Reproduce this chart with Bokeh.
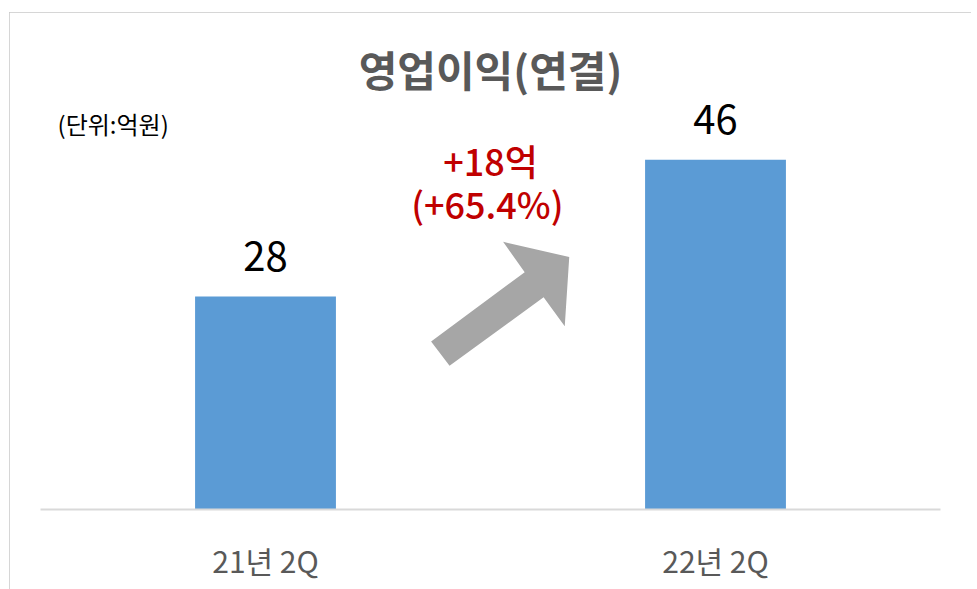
from bokeh.plotting import figure
from bokeh.models import ColumnDataSource, Range1d, FactorRange, Label, LabelSet
from bokeh.embed import file_html
from bokeh.resources import INLINE
from bokeh.core.properties import value

categories = ["21년 2Q", "22년 2Q"]
values = [28, 46]
value_labels = ["28", "46"]
title_text = "영업이익(연결)"
unit_text = "(단위:억원)"
change_text = "+18억"
change_pct_text = "(+65.4%)"

# arrow outline (synthetic categorical x, data y)
arrow_x = [0.868, 0.909, 1.118, 1.165, 1.175, 1.028, 1.076]
arrow_y = [22.1, 18.9, 27.9, 24.1, 33.2, 35.2, 31.2]

FONT = "Noto Sans CJK KR"
FONT_MED = "'Noto Sans CJK KR Medium', 'Noto Sans CJK KR'"

p = figure(width=962, height=577, x_range=FactorRange(*categories), y_range=Range1d(0, 64.3),
           output_backend="svg", toolbar_location=None,
           min_border_left=31, min_border_right=31, min_border_top=8, min_border_bottom=80)
p.margin = (12, 0, 0, 9)
p.styles = {"outline": "2px solid #C9C9C9", "outline-offset": "-2px"}
p.background_fill_color = "white"
p.border_fill_color = "white"
p.outline_line_color = None
p.xgrid.visible = False
p.ygrid.visible = False
p.yaxis.visible = False

src = ColumnDataSource(dict(cat=categories, val=values, lab=value_labels))
p.vbar(x="cat", top="val", width=0.313, source=src, fill_color="#5B9BD5", line_color=None)

p.add_layout(LabelSet(x="cat", y="val", text="lab", source=src, y_offset=40,
                      text_align="center", text_baseline="middle",
                      text_font=value(FONT), text_font_size="40px", text_color="#000000"))

p.xaxis.axis_line_color = "#D9D9D9"
p.xaxis.axis_line_width = 2
p.xaxis.major_tick_line_color = None
p.xaxis.minor_tick_line_color = None
p.xaxis.major_label_text_font = FONT
p.xaxis.major_label_text_font_size = "30px"
p.xaxis.major_label_text_color = "#595959"
p.xaxis.major_label_standoff = 22

p.patch(arrow_x, arrow_y, fill_color="#A6A6A6", line_color=None)

p.add_layout(Label(x=1.0, y=58.0, text=title_text, text_align="center", text_baseline="middle",
                   text_font=FONT, text_font_size="42px", text_font_style="bold", text_color="#595959"))
p.add_layout(Label(x=0.038, y=50.8, text=unit_text, text_align="left", text_baseline="middle",
                   text_font=FONT, text_font_size="24px", text_color="#000000"))
p.add_layout(Label(x=1.0, y=45.9, text=change_text, text_align="center", text_baseline="middle",
                   text_font=FONT_MED, text_font_size="36px", text_color="#C00000"))
p.add_layout(Label(x=0.993, y=40.3, text=change_pct_text, text_align="center", text_baseline="middle",
                   text_font=FONT_MED, text_font_size="36px", text_color="#C00000"))

open("out.html", "w").write(file_html(p, INLINE))
